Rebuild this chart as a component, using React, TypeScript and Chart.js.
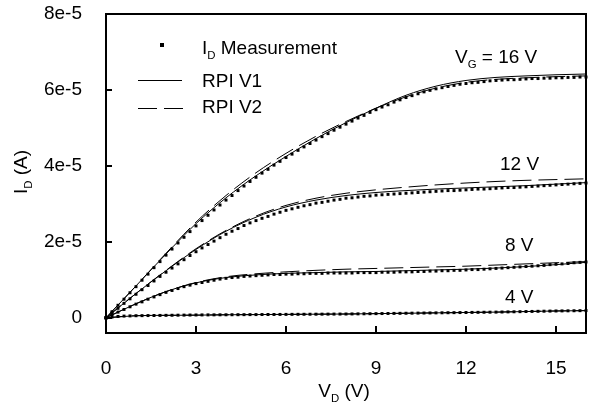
import React, { useEffect, useRef, useState } from "react";
import { Chart, registerables } from "chart.js";

Chart.register(...registerables);

const FONT = '"Liberation Sans", Arial, Helvetica, sans-serif';
const I_UNIT = 1e-5; // drain current values below are in units of 1e-5 A

// Measurement drain voltages (V)
const VD_MEAS = [
  0, 0.2, 0.4, 0.6, 0.8, 1.0, 1.2, 1.4, 1.6, 1.8,
  2.0, 2.2, 2.4, 2.6, 2.8, 3.0, 3.2, 3.4, 3.6, 3.8,
  4.0, 4.2, 4.4, 4.6, 4.8, 5.0, 5.2, 5.4, 5.6, 5.8,
  6.0, 6.2, 6.4, 6.6, 6.8, 7.0, 7.2, 7.4, 7.6, 7.8,
  8.0, 8.2, 8.4, 8.6, 8.8, 9.0, 9.2, 9.4, 9.6, 9.8,
  10.0, 10.2, 10.4, 10.6, 10.8, 11.0, 11.2, 11.4, 11.6, 11.8,
  12.0, 12.2, 12.4, 12.6, 12.8, 13.0, 13.2, 13.4, 13.6, 13.8,
  14.0, 14.2, 14.4, 14.6, 14.8, 15.0, 15.2, 15.4, 15.6, 15.8,
  16.0,
];

const MEAS_VG16 = [
  0, 0.16, 0.33, 0.49, 0.66, 0.82, 0.99, 1.15, 1.32, 1.48,
  1.65, 1.81, 1.97, 2.12, 2.27, 2.42, 2.56, 2.70, 2.84, 2.97,
  3.10, 3.22, 3.35, 3.47, 3.59, 3.70, 3.81, 3.91, 4.02, 4.12,
  4.22, 4.31, 4.41, 4.50, 4.59, 4.68, 4.77, 4.85, 4.94, 5.02,
  5.10, 5.18, 5.26, 5.33, 5.41, 5.48, 5.55, 5.61, 5.68, 5.74,
  5.80, 5.85, 5.90, 5.95, 5.99, 6.03, 6.06, 6.09, 6.12, 6.15,
  6.17, 6.19, 6.20, 6.22, 6.24, 6.25, 6.26, 6.27, 6.27, 6.28,
  6.29, 6.30, 6.30, 6.31, 6.31, 6.32, 6.32, 6.33, 6.33, 6.34,
  6.34,
];

const MEAS_VG12 = [
  0, 0.13, 0.25, 0.38, 0.50, 0.62, 0.74, 0.85, 0.97, 1.09,
  1.20, 1.31, 1.42, 1.53, 1.64, 1.74, 1.84, 1.93, 2.02, 2.11,
  2.20, 2.28, 2.35, 2.43, 2.50, 2.56, 2.62, 2.67, 2.73, 2.78,
  2.83, 2.87, 2.91, 2.95, 2.98, 3.02, 3.04, 3.07, 3.10, 3.12,
  3.15, 3.16, 3.18, 3.20, 3.21, 3.23, 3.24, 3.25, 3.26, 3.27,
  3.28, 3.29, 3.30, 3.31, 3.32, 3.33, 3.34, 3.35, 3.35, 3.36,
  3.37, 3.38, 3.39, 3.39, 3.40, 3.41, 3.42, 3.43, 3.43, 3.44,
  3.45, 3.46, 3.47, 3.48, 3.49, 3.50, 3.51, 3.52, 3.53, 3.54,
  3.55,
];

const MEAS_VG8 = [
  0, 0.08, 0.15, 0.22, 0.29, 0.36, 0.42, 0.49, 0.55, 0.61,
  0.67, 0.72, 0.77, 0.82, 0.86, 0.90, 0.93, 0.96, 0.99, 1.02,
  1.04, 1.06, 1.07, 1.09, 1.10, 1.11, 1.12, 1.13, 1.14, 1.14,
  1.15, 1.15, 1.16, 1.16, 1.17, 1.17, 1.17, 1.18, 1.18, 1.18,
  1.18, 1.18, 1.19, 1.19, 1.19, 1.19, 1.20, 1.20, 1.20, 1.21,
  1.21, 1.21, 1.22, 1.22, 1.23, 1.23, 1.24, 1.24, 1.25, 1.25,
  1.26, 1.27, 1.27, 1.28, 1.29, 1.30, 1.31, 1.32, 1.33, 1.34,
  1.35, 1.36, 1.37, 1.38, 1.40, 1.41, 1.42, 1.43, 1.45, 1.46,
  1.47,
];

const MEAS_VG4 = [
  0, 0.02, 0.035, 0.045, 0.05, 0.055, 0.057, 0.059, 0.061, 0.063,
  0.065, 0.067, 0.069, 0.071, 0.073, 0.075, 0.076, 0.077, 0.078, 0.079,
  0.080, 0.081, 0.082, 0.083, 0.084, 0.085, 0.086, 0.087, 0.088, 0.089,
  0.090, 0.091, 0.092, 0.093, 0.094, 0.095, 0.096, 0.097, 0.098, 0.099,
  0.100, 0.102, 0.104, 0.106, 0.108, 0.110, 0.112, 0.114, 0.116, 0.118,
  0.120, 0.122, 0.124, 0.126, 0.128, 0.130, 0.132, 0.134, 0.136, 0.138,
  0.140, 0.142, 0.144, 0.146, 0.148, 0.150, 0.153, 0.156, 0.159, 0.162,
  0.165, 0.168, 0.171, 0.174, 0.177, 0.180, 0.182, 0.184, 0.186, 0.188,
  0.190,
];

// Model curves, drain voltages (V)
const VD_MODEL = [0, 1, 2, 3, 4, 5, 6, 7, 8, 9, 10, 11, 12, 13, 14, 15, 16];

const V1_VG16 = [0, 0.84, 1.68, 2.48, 3.16, 3.74, 4.25, 4.72, 5.14, 5.52, 5.86, 6.10, 6.25, 6.33, 6.37, 6.40, 6.42];
const V2_VG16 = [0, 0.84, 1.70, 2.52, 3.22, 3.82, 4.33, 4.78, 5.17, 5.52, 5.82, 6.05, 6.20, 6.28, 6.32, 6.35, 6.37];
const V1_VG12 = [0, 0.64, 1.24, 1.80, 2.28, 2.65, 2.92, 3.10, 3.22, 3.30, 3.35, 3.39, 3.42, 3.45, 3.48, 3.52, 3.56];
const V2_VG12 = [0, 0.64, 1.25, 1.82, 2.30, 2.68, 2.96, 3.15, 3.28, 3.37, 3.44, 3.50, 3.55, 3.59, 3.62, 3.64, 3.66];
const V1_VG8 = [0, 0.37, 0.69, 0.92, 1.06, 1.13, 1.17, 1.19, 1.21, 1.22, 1.24, 1.26, 1.28, 1.31, 1.35, 1.40, 1.46];
const V2_VG8 = [0, 0.37, 0.69, 0.93, 1.08, 1.16, 1.21, 1.25, 1.28, 1.30, 1.32, 1.34, 1.36, 1.39, 1.42, 1.45, 1.48];
const V1_VG4 = [0, 0.055, 0.065, 0.07, 0.08, 0.085, 0.09, 0.095, 0.10, 0.11, 0.12, 0.13, 0.14, 0.15, 0.165, 0.18, 0.19];
const V2_VG4 = [0, 0.055, 0.065, 0.07, 0.08, 0.085, 0.09, 0.095, 0.10, 0.11, 0.12, 0.13, 0.14, 0.15, 0.165, 0.18, 0.19];

const X_TICKS = [0, 3, 6, 9, 12, 15];
const X_TICK_LABELS = ["0", "3", "6", "9", "12", "15"];
const Y_TICKS = [0, 2e-5, 4e-5, 6e-5, 8e-5];
const Y_TICK_LABELS = ["0", "2e-5", "4e-5", "6e-5", "8e-5"];
const X_MIN = 0;
const X_MAX = 16;
const Y_MIN = -0.4e-5;
const Y_MAX = 8e-5;

const LEGEND_LABELS = ["Measurement", "RPI V1", "RPI V2"];
const CURVE_LABELS = ["16 V", "12 V", "8 V", "4 V"];

type Run = { t: string; sub?: boolean };
type Geom = { l: number; r: number; t: number; b: number; xt: number[]; yt: number[] };

function drawRuns(
  ctx: CanvasRenderingContext2D,
  runs: Run[],
  x: number,
  y: number,
  size: number,
  align: "left" | "center"
) {
  const subSize = size * 0.6;
  const widths = runs.map((r) => {
    ctx.font = `${r.sub ? subSize : size}px ${FONT}`;
    return ctx.measureText(r.t).width;
  });
  const total = widths.reduce((a, b) => a + b, 0);
  let cx = align === "center" ? x - total / 2 : x;
  ctx.textAlign = "left";
  ctx.textBaseline = "alphabetic";
  ctx.fillStyle = "#000";
  runs.forEach((r, i) => {
    ctx.font = `${r.sub ? subSize : size}px ${FONT}`;
    ctx.fillText(r.t, cx, r.sub ? y + size * 0.25 : y);
    cx += widths[i];
  });
}

const zip = (xs: number[], ys: number[]) => ys.map((v, i) => ({ x: xs[i], y: v * I_UNIT }));

function makeDecorPlugin(onGeom: (g: Geom) => void) {
  return {
    id: "decor",
    afterDraw(chart: any) {
      const ctx: CanvasRenderingContext2D = chart.ctx;
      const xs = chart.scales.x;
      const ys = chart.scales.y;
      const ca = chart.chartArea;
      ctx.save();

      // legend text
      drawRuns(ctx, [{ t: "I" }, { t: "D", sub: true }, { t: " " + LEGEND_LABELS[0] }], 202, 54, 19, "left");
      drawRuns(ctx, [{ t: LEGEND_LABELS[1] }], 202, 87, 19, "left");
      drawRuns(ctx, [{ t: LEGEND_LABELS[2] }], 202, 113, 19, "left");

      // curve labels
      drawRuns(ctx, [{ t: "V" }, { t: "G", sub: true }, { t: " = " + CURVE_LABELS[0] }], 455, 63, 19, "left");
      drawRuns(ctx, [{ t: CURVE_LABELS[1] }], 500, 170, 19, "left");
      drawRuns(ctx, [{ t: CURVE_LABELS[2] }], 505, 251, 19, "left");
      drawRuns(ctx, [{ t: CURVE_LABELS[3] }], 505, 303, 19, "left");

      // axis titles
      drawRuns(ctx, [{ t: "V" }, { t: "D", sub: true }, { t: " (V)" }], 344, 397, 19, "center");
      ctx.save();
      ctx.translate(27, 172);
      ctx.rotate(-Math.PI / 2);
      drawRuns(ctx, [{ t: "I" }, { t: "D", sub: true }, { t: " (A)" }], 0, 0, 19, "center");
      ctx.restore();

      // legend symbols
      ctx.fillStyle = "#000";
      ctx.fillRect(160, 43, 4, 4);
      ctx.fillRect(138, 80, 44, 1);
      ctx.fillRect(138, 108, 19, 1);
      ctx.fillRect(164, 108, 19, 1);

      ctx.restore();

      onGeom({
        l: Math.round(ca.left),
        r: Math.round(ca.right),
        t: Math.round(ca.top),
        b: Math.round(ca.bottom),
        xt: X_TICKS.map((v) => Math.round(xs.getPixelForValue(v))),
        yt: Y_TICKS.map((v) => Math.round(ys.getPixelForValue(v))),
      });
    },
  };
}

export default function App() {
  const ref = useRef<HTMLCanvasElement | null>(null);
  const [geom, setGeom] = useState<Geom | null>(null);
  const geomKey = useRef<string>("");

  useEffect(() => {
    if (!ref.current) return;
    const onGeom = (g: Geom) => {
      const key = JSON.stringify(g);
      if (key !== geomKey.current) {
        geomKey.current = key;
        setTimeout(() => setGeom(g), 0);
      }
    };
    const measDs = (data: number[], order: number) => ({
      label: "meas",
      data: zip(VD_MEAS, data),
      showLine: false,
      pointStyle: "rect",
      pointRadius: 2.1,
      pointBackgroundColor: "#000",
      pointBorderWidth: 0,
      borderColor: "#000",
      clip: false,
      order,
    });
    const lineDs = (data: number[], dashed: boolean, order: number) => ({
      label: dashed ? "V2" : "V1",
      data: zip(VD_MODEL, data),
      borderColor: "#000",
      borderWidth: 1,
      borderDash: dashed ? [19, 7] : [],
      pointRadius: 0,
      cubicInterpolationMode: "monotone",
      fill: false,
      clip: false,
      order,
    });

    const chart = new Chart(ref.current, {
      type: "line",
      data: {
        datasets: [
          measDs(MEAS_VG16, 0),
          measDs(MEAS_VG12, 0),
          measDs(MEAS_VG8, 0),
          measDs(MEAS_VG4, 0),
          lineDs(V1_VG16, false, 1),
          lineDs(V2_VG16, true, 2),
          lineDs(V1_VG12, false, 1),
          lineDs(V2_VG12, true, 2),
          lineDs(V1_VG8, false, 1),
          lineDs(V2_VG8, true, 2),
          lineDs(V1_VG4, false, 1),
          lineDs(V2_VG4, true, 2),
        ] as any,
      },
      options: {
        animation: false,
        responsive: true,
        maintainAspectRatio: false,
        layout: { padding: { top: 14, right: 4, left: 0, bottom: 0 } },
        plugins: { legend: { display: false }, tooltip: { enabled: false } },
        events: [],
        scales: {
          x: {
            type: "linear",
            min: X_MIN,
            max: X_MAX,
            grid: { display: false },
            border: { display: false },
            afterBuildTicks: (s: any) => {
              s.ticks = X_TICKS.map((v) => ({ value: v }));
            },
            afterFit: (s: any) => {
              s.height = 72;
              s.paddingLeft = 0;
              s.paddingRight = 0;
            },
            ticks: {
              color: "#000",
              font: { family: FONT, size: 19 },
              padding: 16,
              maxRotation: 0,
              autoSkip: false,
              callback: (v: any) => {
                const i = X_TICKS.indexOf(Number(v));
                return i >= 0 ? X_TICK_LABELS[i] : "";
              },
            },
          },
          y: {
            type: "linear",
            min: Y_MIN,
            max: Y_MAX,
            grid: { display: false },
            border: { display: false },
            afterBuildTicks: (s: any) => {
              s.ticks = Y_TICKS.map((v) => ({ value: v }));
            },
            afterFit: (s: any) => {
              s.width = 106;
              s.paddingTop = 0;
              s.paddingBottom = 0;
            },
            ticks: {
              color: "#000",
              font: { family: FONT, size: 19 },
              padding: 16,
              autoSkip: false,
              callback: (v: any) => {
                const i = Y_TICKS.findIndex((t) => Math.abs(t - Number(v)) < 1e-9);
                return i >= 0 ? Y_TICK_LABELS[i] : "";
              },
            },
          },
        },
      } as any,
      plugins: [makeDecorPlugin(onGeom)],
    });
    return () => chart.destroy();
  }, []);

  const bar = (key: string, left: number, top: number, width: number, height: number) => (
    <div
      key={key}
      style={{ position: "absolute", left, top, width, height, background: "#000", pointerEvents: "none" }}
    />
  );

  return (
    <div style={{ position: "absolute", left: 0, top: 0, width: 590, height: 405, background: "#fff" }}>
      <canvas ref={ref} />
      {geom && (
        <>
          {bar("top", geom.l - 1, geom.t - 1, geom.r - geom.l + 2, 2)}
          {bar("bottom", geom.l - 1, geom.b - 1, geom.r - geom.l + 2, 2)}
          {bar("left", geom.l - 1, geom.t - 1, 2, geom.b - geom.t + 2)}
          {bar("right", geom.r - 1, geom.t - 1, 2, geom.b - geom.t + 2)}
          {geom.yt.map((py, i) => bar("yt" + i, geom.l, py - 1, 6, 2))}
          {geom.xt.map((px, i) => bar("xt" + i, px - 1, geom.b - 7, 2, 7))}
        </>
      )}
    </div>
  );
}
